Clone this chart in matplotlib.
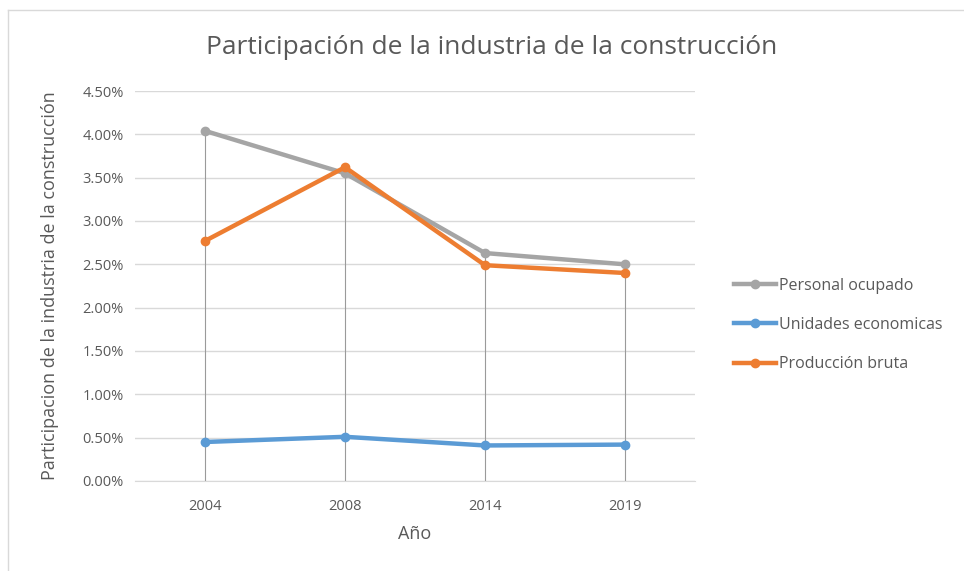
import matplotlib.pyplot as plt
from matplotlib.lines import Line2D
from matplotlib.ticker import PercentFormatter

years = ['2004', '2008', '2014', '2019']
personal_ocupado = [4.04, 3.55, 2.63, 2.50]
unidades_economicas = [0.45, 0.51, 0.41, 0.42]
produccion_bruta = [2.77, 3.62, 2.49, 2.40]

series = [
    ('Personal ocupado', personal_ocupado, '#a5a5a5'),
    ('Unidades economicas', unidades_economicas, '#5b9bd5'),
    ('Producción bruta', produccion_bruta, '#ed7d31'),
]

plt.rcParams['font.family'] = ['Open Sans', 'DejaVu Sans']
text_color = '#595959'

fig = plt.figure(figsize=(9.64, 5.71), dpi=100)
ax = fig.add_axes([135 / 964, 1 - 481 / 571, 560 / 964, 390 / 571])

x = list(range(len(years)))

# drop lines from the highest point down to the axis
for i in x:
    top = max(s[1][i] for s in series)
    ax.plot([i, i], [0, top], color='#9a9a9a', lw=0.8, zorder=1)

for name, vals, color in series:
    ax.plot(x, vals, color=color, lw=3.2, marker='o', markersize=6,
            label=name, zorder=3, solid_capstyle='round')

ax.set_xlim(-0.5, len(years) - 0.5)
ax.set_ylim(0, 4.5)
ax.set_yticks([i * 0.5 for i in range(10)])
ax.yaxis.set_major_formatter(PercentFormatter(decimals=2))
ax.set_xticks(x)
ax.set_xticklabels(years)
ax.grid(axis='y', color='#d9d9d9', lw=1)
ax.set_axisbelow(True)
for sp in ax.spines.values():
    sp.set_visible(False)
ax.spines['bottom'].set_visible(True)
ax.spines['bottom'].set_color('#d9d9d9')
ax.tick_params(length=0, colors=text_color, labelsize=10.5)
ax.tick_params(axis='x', pad=13)
ax.tick_params(axis='y', pad=8)

ax.set_xlabel('Año', color=text_color, fontsize=13, labelpad=8)
ax.set_ylabel('Participacion de la industria de la construcción',
              color=text_color, fontsize=13, labelpad=17)

fig.text(492 / 964, 1 - 47 / 571, 'Participación de la industria de la construcción',
         ha='center', va='center', color=text_color, fontsize=19)

handles = [Line2D([0], [0], color=c, lw=3.2, marker='o', markersize=6) for _, _, c in series]
fig.legend(handles, [s[0] for s in series], loc='center left',
           bbox_to_anchor=(720 / 964, 1 - 325 / 571), frameon=False,
           fontsize=11.5, labelcolor=text_color, handlelength=2.6,
           handletextpad=0.2, labelspacing=1.45)

# chart frame (left and top edges visible in reference)
fig.add_artist(Line2D([8 / 964, 8 / 964], [0, 1 - 10 / 571], color='#d9d9d9', lw=1))
fig.add_artist(Line2D([8 / 964, 1], [1 - 10 / 571, 1 - 10 / 571], color='#d9d9d9', lw=1))

fig.savefig('out.png', dpi=100)
